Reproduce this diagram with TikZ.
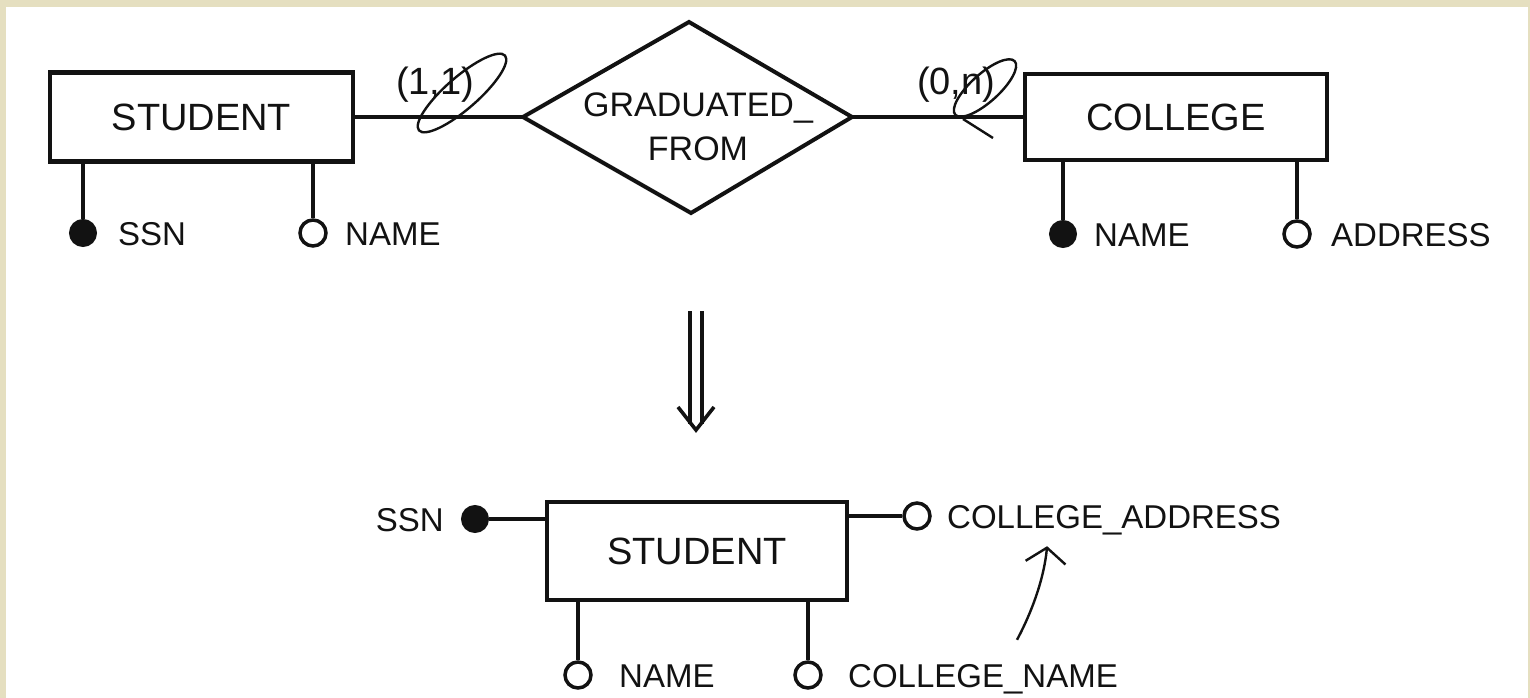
\documentclass[tikz,border=0pt]{standalone}
\usepackage{fontspec}
\setmainfont{Liberation Sans}
\usetikzlibrary{arrows.meta,calc}
\definecolor{paper}{RGB}{229,223,192}
\definecolor{ink}{RGB}{18,18,18}
\begin{document}
\begin{tikzpicture}[x=1pt,y=-1pt,
  entity/.style={draw=ink, line width=4.2pt, inner sep=0pt, text=ink,
    font=\fontsize{38}{40}\selectfont},
  conn/.style={draw=ink, line width=3.6pt},
  keyatt/.style={circle, draw=ink, fill=ink, line width=2pt, minimum size=26pt, inner sep=0pt},
  plainatt/.style={circle, draw=ink, fill=white, line width=3.5pt, minimum size=26pt, inner sep=0pt},
  lbl/.style={inner sep=0pt, text=ink, font=\fontsize{33}{36}\selectfont,
    text height=24pt, text depth=0pt},
  card/.style={inner sep=0pt, text=ink, font=\fontsize{38}{40}\selectfont, anchor=base west},
  hand/.style={draw=ink, line width=2.4pt},
]
% paper and page
\useasboundingbox (0,0) rectangle (1530,698);
\fill[paper] (0,0) rectangle (1530,698);
\fill[white] (6,7) rectangle (1528,698);

% ---------- ER schema ----------
\node[entity, minimum width=303pt, minimum height=89pt] (stuA) at (201.5,117) {STUDENT};
\node[entity, minimum width=302pt, minimum height=86pt] (col) at (1176,117) {COLLEGE};

% relationship diamond
\coordinate (dW) at (523,117);
\coordinate (dN) at (689,22);
\coordinate (dE) at (852,117);
\coordinate (dS) at (691,213);
\draw[draw=ink, line width=4pt] (dW) -- (dN) -- (dE) -- (dS) -- cycle;
\node[inner sep=0pt, text=ink, align=center, font=\fontsize{34}{44}\selectfont]
  (rel) at (698,127) {GRADUATED\_\\FROM};

\draw[conn] (stuA.east) -- (dW);
\draw[conn] (dE) -- (col.west);

% cardinalities with hand-drawn marks
\node[card] (c11) at (396,95) {(1,1)};
\node[card] (c0n) at (917,95) {(0,n)};
\draw[hand, rotate around={41:(462,93)}] (462,93) ellipse [x radius=57, y radius=16];
\draw[hand, rotate around={42:(985,88)}] (985,88) ellipse [x radius=40, y radius=14];
\draw[hand] (963,119) -- (993,138);

% attributes of STUDENT and COLLEGE
\node[keyatt] (ssnA) at (83,233) {};
\node[plainatt] (nameA) at (313,233) {};
\node[keyatt] (cnA) at (1063,234) {};
\node[plainatt] (caA) at (1297,234) {};
\draw[conn] (stuA.south -| ssnA.north) -- (ssnA.north);
\draw[conn] (stuA.south -| nameA.north) -- (nameA.north);
\draw[conn] (col.south -| cnA.north) -- (cnA.north);
\draw[conn] (col.south -| caA.north) -- (caA.north);
\node[lbl, anchor=west] (tSsnA) at (118,233) {SSN};
\node[lbl, anchor=west] (tNameA) at (345,233) {NAME};
\node[lbl, anchor=west] (tCnA) at (1094,234) {NAME};
\node[lbl, anchor=west] (tCaA) at (1331,234) {ADDRESS};

% ---------- mapping arrow ----------
\coordinate (impL) at (690,311);
\coordinate (impR) at (702,311);
\coordinate (impTip) at (696,430);
\draw[conn, line width=3.2pt] (impL) -- (impL |- 0,424);
\draw[conn, line width=3.2pt] (impR) -- (impR |- 0,424);
\draw[conn, line join=miter] (678,407) -- (impTip) -- (714,407);

% ---------- resulting entity ----------
\node[entity, minimum width=300pt, minimum height=98pt] (stuB) at (697,551) {STUDENT};
\node[keyatt] (ssnB) at (475,519) {};
\node[plainatt] (nameB) at (578,675) {};
\node[plainatt] (cnB) at (808,675) {};
\node[plainatt] (caB) at (917,516) {};
\draw[conn] (ssnB) -- (stuB.west |- ssnB);
\draw[conn] (stuB.east |- caB) -- (caB.west);
\draw[conn] (stuB.south -| nameB.north) -- (nameB.north);
\draw[conn] (stuB.south -| cnB.north) -- (cnB.north);
\node[lbl, anchor=east] (tSsnB) at (444,519) {SSN};
\node[lbl, anchor=west] (tNameB) at (619,675) {NAME};
\node[lbl, anchor=west] (tCnB) at (848,675) {COLLEGE\_NAME};
\node[lbl, anchor=west] (tCaB) at (947,516) {COLLEGE\_ADDRESS};

% derived-from note
\draw[hand, -{Straight Barb[length=15pt,width=40pt]}]
  ($(tCnB.north)+(34,-23)$) .. controls +(15,-28) and +(-3,32) .. ($(tCaB.south)+(-67,18)$);
\end{tikzpicture}
\end{document}
